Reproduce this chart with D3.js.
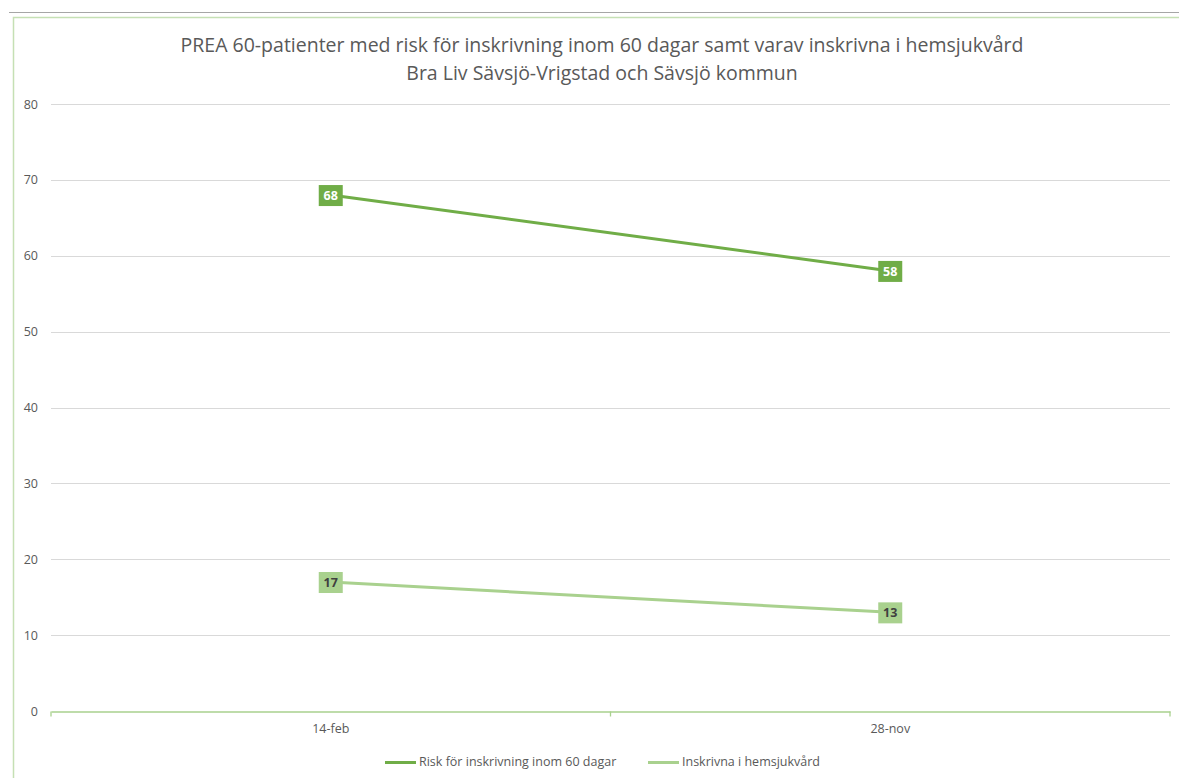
<!DOCTYPE html>
<html>
<head>
<meta charset="utf-8">
<script src="https://cdn.jsdelivr.net/npm/d3@7"></script>
<style>
  html, body { margin: 0; padding: 0; background: #fff; }
  svg { display: block; }
  text { font-family: "Open Sans", "Liberation Sans", sans-serif; }
</style>
</head>
<body>
<svg id="chart" width="1179" height="778"></svg>
<script>
// Datapunkter
const categories = ["14-feb", "28-nov"];
const seriesNames = ["Risk för inskrivning inom 60 dagar", "Inskrivna i hemsjukvård"];
const riskValues = [68, 58];
const hemsjukvardValues = [17, 13];
const yTicks = [0, 10, 20, 30, 40, 50, 60, 70, 80];
const titleLines = [
  "PREA 60-patienter med risk för inskrivning inom 60 dagar samt varav inskrivna i hemsjukvård",
  "Bra Liv Sävsjö-Vrigstad och Sävsjö kommun"
];

const series = [
  { name: seriesNames[0], values: riskValues, color: "#70ad47", labelColor: "#ffffff" },
  { name: seriesNames[1], values: hemsjukvardValues, color: "#a9d18e", labelColor: "#404040" }
];

const svg = d3.select("#chart");
const W = 1179, H = 778;
const plot = { left: 51, right: 1170, top: 104, bottom: 711 };

// Ram och övre linje
svg.append("line").attr("x1", 9).attr("x2", W).attr("y1", 12.5).attr("y2", 12.5)
  .attr("stroke", "#a6a6a6").attr("stroke-width", 1);
svg.append("path")
  .attr("d", `M${W + 2},17.5 H13.5 V${H + 2}`)
  .attr("fill", "none").attr("stroke", "#c5e0b4").attr("stroke-width", 1.5);

const x = d3.scaleBand().domain(categories).range([plot.left, plot.right]);
const y = d3.scaleLinear().domain([0, 80]).range([plot.bottom, plot.top]);

// Rutnät
svg.append("g").selectAll("line").data(yTicks.filter(t => t > 0)).join("line")
  .attr("x1", plot.left).attr("x2", plot.right)
  .attr("y1", d => Math.round(y(d)) + 0.5).attr("y2", d => Math.round(y(d)) + 0.5)
  .attr("stroke", "#d9d9d9").attr("stroke-width", 1);

// Y-axel
const yAxis = svg.append("g").attr("transform", `translate(${plot.left},0)`)
  .call(d3.axisLeft(y).tickValues(yTicks).tickSize(0).tickPadding(13));
yAxis.select(".domain").remove();
yAxis.selectAll("text").attr("fill", "#595959").style("font-size", "12.5px");

// X-axel
const xAxis = svg.append("g").attr("transform", `translate(0,${Math.round(y(0)) + 0.5})`)
  .call(d3.axisBottom(x).tickSize(0).tickPadding(13));
xAxis.select(".domain").attr("stroke", "#a9d18e").attr("stroke-width", 1.3);
xAxis.selectAll("text").attr("fill", "#595959").style("font-size", "12.5px");
const bounds = [plot.left, ...categories.slice(1).map(c => x(c)), plot.right];
xAxis.append("g").selectAll("line").data(bounds).join("line")
  .attr("x1", d => d).attr("x2", d => d).attr("y1", 0).attr("y2", 5)
  .attr("stroke", "#a9d18e").attr("stroke-width", 1.3);

// Linjer
const cx = c => x(c) + x.bandwidth() / 2;
const line = d3.line().x((d, i) => cx(categories[i])).y(d => y(d));
series.forEach(s => {
  svg.append("path").datum(s.values).attr("d", line)
    .attr("fill", "none").attr("stroke", s.color).attr("stroke-width", 3)
    .attr("stroke-linecap", "round");
});

// Dataetiketter
series.forEach(s => {
  const g = svg.append("g");
  s.values.forEach((v, i) => {
    const px = cx(categories[i]), py = y(v);
    g.append("rect").attr("x", px - 12).attr("y", py - 10).attr("width", 24).attr("height", 21)
      .attr("fill", s.color);
    g.append("text").attr("x", px).attr("y", py + 0.5).attr("dy", "0.36em")
      .attr("text-anchor", "middle").attr("fill", s.labelColor)
      .style("font-size", "12.5px").style("font-weight", "bold").text(v);
  });
});

// Titel
svg.append("g").selectAll("text").data(titleLines).join("text")
  .attr("x", 602).attr("y", (d, i) => 52 + i * 28)
  .attr("text-anchor", "middle").attr("fill", "#595959")
  .style("font-size", "19.5px").text(d => d);

// Förklaring
const legend = svg.append("g");
const legendItems = [
  { x: 385, s: series[0] },
  { x: 648, s: series[1] }
];
legendItems.forEach(it => {
  legend.append("line").attr("x1", it.x).attr("x2", it.x + 31).attr("y1", 762.5).attr("y2", 762.5)
    .attr("stroke", it.s.color).attr("stroke-width", 3);
  legend.append("text").attr("x", it.x + 34).attr("y", 762).attr("dy", "0.35em")
    .attr("fill", "#595959").style("font-size", "12.5px").text(it.s.name);
});
</script>
</body>
</html>
